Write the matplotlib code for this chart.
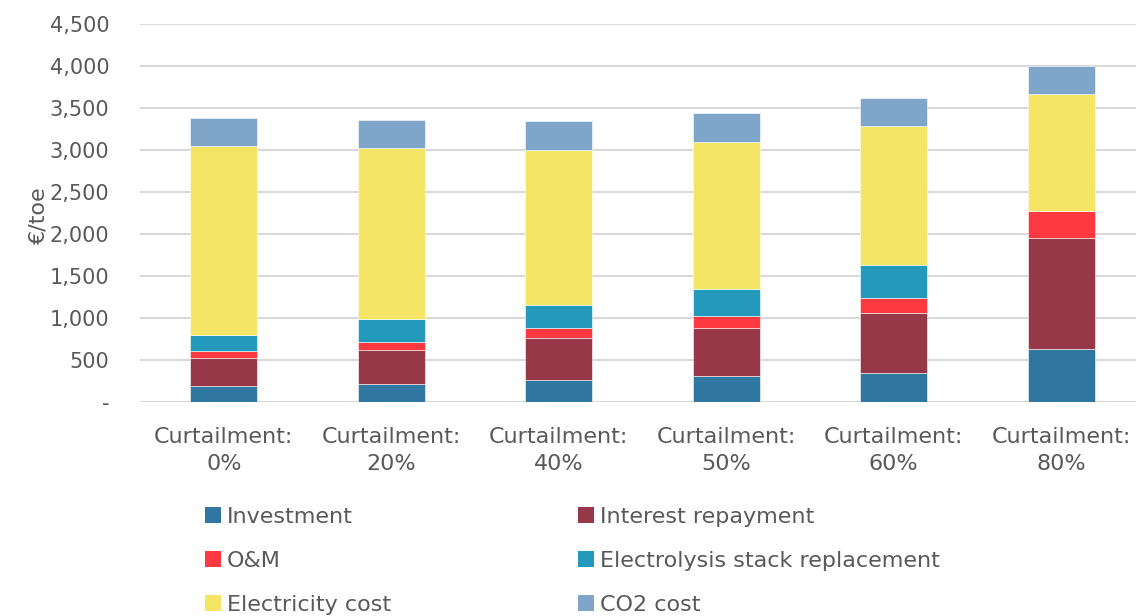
import numpy as np
import matplotlib
matplotlib.use("Agg")
import matplotlib.pyplot as plt
from matplotlib.patches import Patch

plt.rcParams['font.family'] = ['DejaVu Sans']

# ── Data (€/toe) ───────────────────────────────────────────────────────────────
categories = ["Curtailment:\n0%", "Curtailment:\n20%", "Curtailment:\n40%",
              "Curtailment:\n50%", "Curtailment:\n60%", "Curtailment:\n80%"]
investment  = [185, 217, 264, 304, 351, 633]
interest    = [340, 404, 500, 579, 711, 1322]
om          = [87, 96, 119, 143, 174, 313]
stack       = [191, 269, 269, 317, 393, 0]
electricity = [2246, 2032, 1850, 1755, 1654, 1393]
co2         = [337, 342, 341, 340, 342, 342]

series_names = ["Investment", "Interest repayment", "O&M",
                "Electrolysis stack replacement", "Electricity cost", "CO2 cost"]
colors = ["#2F77A0", "#963848", "#FC3841", "#2399BC", "#F4E565", "#7FA6C8"]
yticks = [0, 500, 1000, 1500, 2000, 2500, 3000, 3500, 4000, 4500]
ytick_labels = ["-", "500", "1,000", "1,500", "2,000", "2,500",
                "3,000", "3,500", "4,000", "4,500"]

TXT = "#595959"
FS = 15

fig = plt.figure(figsize=(11.36, 6.16), dpi=100)
ax = fig.add_axes([140 / 1136, 1 - 402 / 616, 996 / 1136, 378 / 616])

x = np.arange(len(categories))
bottom = np.zeros(len(categories))
for vals, c in zip([investment, interest, om, stack, electricity, co2], colors):
    ax.bar(x, vals, width=0.4, bottom=bottom, color=c,
           edgecolor="white", linewidth=0.4, zorder=3)
    bottom += np.array(vals)

ax.set_xlim(-0.5, -0.5 + 996 / 167.5)
ax.set_ylim(0, 4500)
ax.set_yticks(yticks)
ax.set_yticklabels(ytick_labels, color=TXT, fontsize=FS)
ax.set_xticks(x)
ax.set_xticklabels(categories, color=TXT, fontsize=16, linespacing=1.45)
ax.tick_params(axis="both", length=0)
ax.tick_params(axis="y", pad=22)
ax.tick_params(axis="x", pad=18)
ax.grid(axis="y", color="#d9d9d9", linewidth=1.5, zorder=0)
for s in ax.spines.values():
    s.set_visible(False)

fig.text(38 / 1136, 1 - 215 / 616, "€/toe", rotation=90, color=TXT,
         fontsize=16, ha="center", va="center")

# ── Legend: two columns placed manually ────────────────────────────────────────
col_items = [[0, 2, 4], [1, 3, 5]]
col_x = [205 / 1136, 578 / 1136]
for idx, cx in zip(col_items, col_x):
    handles = [Patch(facecolor=colors[i], edgecolor="none") for i in idx]
    leg = fig.legend(handles, [series_names[i] for i in idx],
                     loc="upper left", bbox_to_anchor=(cx, 1 - 507 / 616),
                     frameon=False, fontsize=16, handlelength=0.7,
                     handleheight=0.7, handletextpad=0.3,
                     labelspacing=1.07, borderpad=0, borderaxespad=0)
    for t in leg.get_texts():
        t.set_color(TXT)

fig.savefig("out.png", dpi=100)
